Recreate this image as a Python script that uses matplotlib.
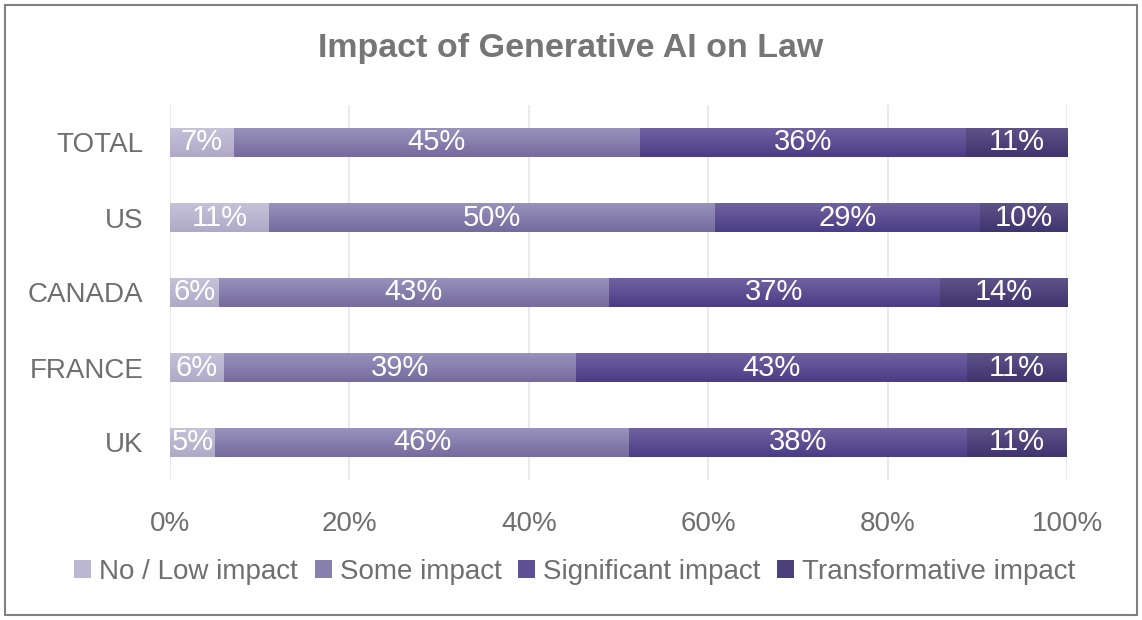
import numpy as np
import matplotlib
matplotlib.use('Agg')
import matplotlib.pyplot as plt
from matplotlib.colors import to_rgb
from matplotlib.patches import Patch

plt.rcParams['font.family'] = ['Liberation Sans', 'DejaVu Sans']

# Data (bottom to top as drawn)
countries = ['UK', 'FRANCE', 'CANADA', 'US', 'TOTAL']
series = ['No / Low impact', 'Some impact', 'Significant impact', 'Transformative impact']
# bar widths (100% stacked)
shares = {
    'No / Low impact':       [5.0, 6.0, 5.5, 11.0, 7.1],
    'Some impact':           [46.2, 39.3, 43.4, 49.8, 45.3],
    'Significant impact':    [37.7, 43.6, 36.9, 29.5, 36.3],
    'Transformative impact': [11.1, 11.1, 14.2, 9.7, 11.3],
}
# printed labels
labels = {
    'No / Low impact':       [5, 6, 6, 11, 7],
    'Some impact':           [46, 39, 43, 50, 45],
    'Significant impact':    [38, 43, 37, 29, 36],
    'Transformative impact': [11, 11, 14, 10, 11],
}
xticks = [0, 20, 40, 60, 80, 100]

# gradient colours (top, bottom)
grad = {
    'No / Low impact':       ('#c6c2da', '#afa9c7'),
    'Some impact':           ('#9a93bd', '#756b9e'),
    'Significant impact':    ('#7163a2', '#4b3d85'),
    'Transformative impact': ('#5e5488', '#3f346e'),
}
legend_col = {
    'No / Low impact': '#bbb6d1',
    'Some impact': '#877fae',
    'Significant impact': '#5e5094',
    'Transformative impact': '#4b4079',
}

fig = plt.figure(figsize=(11.42, 6.2), dpi=100)
ax = fig.add_axes([170 / 1142, 1 - 480 / 620, 897 / 1142, 375 / 620])

# outer border
fig.patches.append(plt.Rectangle((5 / 1142, 5 / 620), 1132 / 1142, 610 / 620,
                                 transform=fig.transFigure, fill=False,
                                 edgecolor='#808080', linewidth=1.5))

y = np.arange(len(countries))
h = 0.387
left = np.zeros(len(countries))
for s in series:
    w = np.array(shares[s])
    bars = ax.barh(y, w, left=left, height=h, color=legend_col[s], zorder=2)
    top, bot = np.array(to_rgb(grad[s][0])), np.array(to_rgb(grad[s][1]))
    img = np.linspace(0, 1, 32)[:, None, None] * (bot - top) + top
    img = np.repeat(img, 2, axis=1)
    for b in bars:
        x0, y0 = b.get_x(), b.get_y()
        im = ax.imshow(img, extent=(x0, x0 + b.get_width(), y0, y0 + b.get_height()),
                       origin='upper', aspect='auto', interpolation='bilinear', zorder=2.5)
        im.set_clip_path(b)
    ax.bar_label(bars, labels=[f'{v}%' for v in labels[s]], label_type='center',
                 color='white', fontsize=21, zorder=4)
    left += w

ax.set_xlim(0, 100)
ax.set_ylim(-0.5, len(countries) - 0.5)
ax.set_xticks(xticks)
ax.set_xticklabels([f'{t}%' for t in xticks])
ax.set_yticks(y)
ax.set_yticklabels(countries)
ax.tick_params(axis='both', length=0, labelsize=20, colors='#6f6f6f')
ax.tick_params(axis='x', pad=22)
ax.tick_params(axis='y', pad=19)
ax.grid(axis='x', color='#e6e6e6', linewidth=1.2, zorder=0)
ax.set_axisbelow(True)
for sp in ax.spines.values():
    sp.set_visible(False)

fig.text(571 / 1142, 1 - 48 / 620, 'Impact of Generative AI on Law', ha='center', va='center',
         fontsize=24.5, fontweight='bold', color='#767676')

handles = [Patch(facecolor=legend_col[s]) for s in series]
fig.legend(handles, series, loc='center', bbox_to_anchor=(575 / 1142, 1 - 572 / 620), ncol=4,
           frameon=False, fontsize=20, labelcolor='#6f6f6f', handlelength=0.6, handleheight=0.6,
           handletextpad=0.3, columnspacing=0.6)

fig.savefig('out.png', dpi=100)
